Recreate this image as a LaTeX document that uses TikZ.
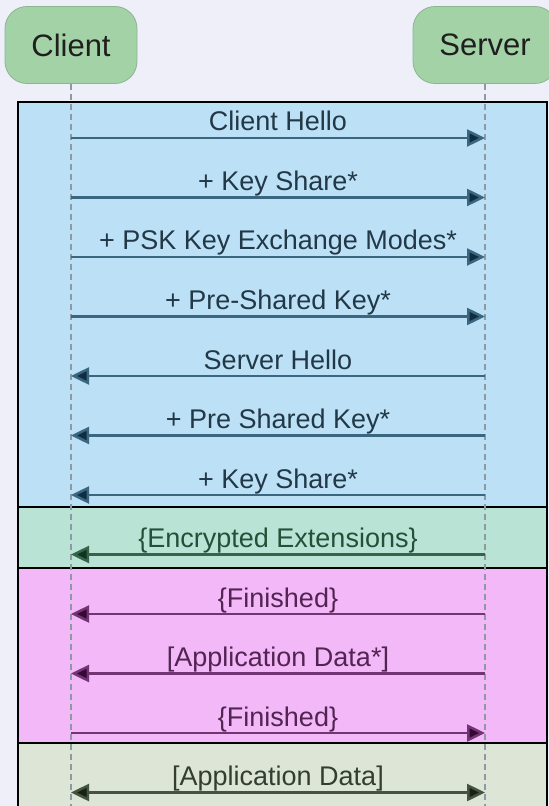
\documentclass[tikz,border=0pt]{standalone}
\usepackage{fontspec}
\setmainfont{Liberation Sans}
\usetikzlibrary{arrows.meta, positioning}

\definecolor{bgcol}{HTML}{EFEFFA}
\definecolor{actorcol}{HTML}{A2D2A6}
\definecolor{actorline}{HTML}{8DB592}
\definecolor{lifecol}{HTML}{8E9AA3}
\definecolor{bluefill}{HTML}{BCE1F7}
\definecolor{bluetext}{HTML}{223846}
\definecolor{blueline}{HTML}{3A6680}
\definecolor{bluehead}{HTML}{102E42}
\definecolor{greenfill}{HTML}{B9E3D4}
\definecolor{greentext}{HTML}{24503A}
\definecolor{greenline}{HTML}{35644A}
\definecolor{greenhead}{HTML}{0F3520}
\definecolor{pinkfill}{HTML}{F2B8F8}
\definecolor{pinktext}{HTML}{522452}
\definecolor{pinkline}{HTML}{723472}
\definecolor{pinkhead}{HTML}{360836}
\definecolor{greyfill}{HTML}{DCE5D6}
\definecolor{greytext}{HTML}{333E30}
\definecolor{greyline}{HTML}{445440}
\definecolor{greyhead}{HTML}{172214}

\begin{document}
\begin{tikzpicture}[x=0.5pt, y=-0.5pt,
  actor/.style = {draw=actorline, fill=actorcol, rounded corners=11pt, minimum width=66pt,
    minimum height=38.5pt, inner sep=0pt, text=black!88, font=\fontsize{15.5}{18}\selectfont},
  lifeline/.style = {draw=lifecol, line width=1pt, dash pattern=on 3pt off 2pt},
  frame/.style = {draw=black, line width=1pt},
  msg/.style = {line width=1.25pt, font=\fontsize{13.5}{16}\selectfont},
  lbl/.style = {midway, anchor=base, yshift=3.5pt, inner sep=0pt},
  blue msg/.style = {msg, draw=blueline, text=bluetext, -{Triangle[length=9pt, width=8.5pt, fill=bluehead]}},
  green msg/.style = {msg, draw=greenline, text=greentext, -{Triangle[length=9pt, width=8.5pt, fill=greenhead]}},
  pink msg/.style = {msg, draw=pinkline, text=pinktext, -{Triangle[length=9pt, width=8.5pt, fill=pinkhead]}},
  grey msg/.style = {msg, draw=greyline, text=greytext, {Triangle[length=9pt, width=8.5pt, fill=greyhead]}-{Triangle[length=9pt, width=8.5pt, fill=greyhead]}}]

  \fill[bgcol] (0,0) rectangle (549,806);
  \useasboundingbox (0,0) rectangle (549,806);

  \filldraw[frame, fill=bluefill]  (18,102) rectangle (547,507);
  \filldraw[frame, fill=greenfill] (18,507) rectangle (547,568);
  \filldraw[frame, fill=pinkfill]  (18,568) rectangle (547,743);
  \filldraw[frame, fill=greyfill]  (18,743) rectangle (547,812);

  \node[actor] (client) at (71,45) {Client};
  \node[actor, minimum width=72pt] (server) at (485,45) {Server};
  \coordinate (cend) at (71,806);
  \coordinate (send) at (485,806);
  \draw[lifeline] (client) -- (cend);
  \draw[lifeline] (server) -- (send);

  \foreach \i in {1,...,12} {
    \coordinate (c\i) at (71,78.5+59.5*\i);
    \coordinate (s\i) at (485,78.5+59.5*\i);
  }

  \draw[blue msg] (c1) -- node[lbl] {Client Hello} (s1);
  \draw[blue msg] (c2) -- node[lbl] {+ Key Share*} (s2);
  \draw[blue msg] (c3) -- node[lbl] {+ PSK Key Exchange Modes*} (s3);
  \draw[blue msg] (c4) -- node[lbl] {+ Pre-Shared Key*} (s4);
  \draw[blue msg] (s5) -- node[lbl] {Server Hello} (c5);
  \draw[blue msg] (s6) -- node[lbl] {+ Pre Shared Key*} (c6);
  \draw[blue msg] (s7) -- node[lbl] {+ Key Share*} (c7);
  \draw[green msg] (s8) -- node[lbl] {\{Encrypted Extensions\}} (c8);
  \draw[pink msg] (s9) -- node[lbl] {\{Finished\}} (c9);
  \draw[pink msg] (s10) -- node[lbl] {[Application Data*]} (c10);
  \draw[pink msg] (c11) -- node[lbl] {\{Finished\}} (s11);
  \draw[grey msg] (c12) -- node[lbl] {[Application Data]} (s12);
\end{tikzpicture}
\end{document}
